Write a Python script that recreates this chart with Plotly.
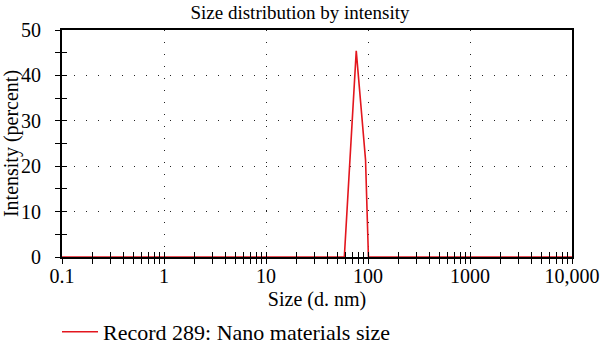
import plotly.graph_objects as go

# Data (size in d.nm, intensity in percent)
size_nm = [0.1, 1, 10, 58.6, 76.7, 94.6, 101, 1000, 10000]
intensity = [0, 0, 0, 0, 45.4, 21.4, 0, 0, 0]

x_major = [0.1, 1, 10, 100, 1000, 10000]
x_labels = ["0.1", "1", "10", "100", "1000", "10,000"]
x_minor = [m * d for d in [0.1, 1, 10, 100, 1000] for m in range(2, 10)]
y_major = [0, 10, 20, 30, 40, 50]
y_minor = [5, 15, 25, 35, 45]

FONT = "Liberation Serif, DejaVu Serif, serif"
RED = "#e3161e"

fig = go.Figure()
fig.add_trace(go.Scatter(
    x=size_nm, y=intensity, mode="lines",
    line=dict(color=RED, width=1.6),
    name="Record 289: Nano materials size",
    xaxis="x", yaxis="y",
))
# helper invisible trace so overlay axes (inside ticks) are drawn
fig.add_trace(go.Scatter(
    x=size_nm, y=intensity, mode="lines", opacity=0,
    showlegend=False, hoverinfo="skip", xaxis="x2", yaxis="y2",
))

common_x = dict(type="log", range=[-1, 4], tickvals=x_major,
                ticklen=5, tickwidth=1.3, tickcolor="black", automargin=False)
common_y = dict(range=[0, 50], tickvals=y_major,
                ticklen=5, tickwidth=1.3, tickcolor="black", automargin=False)

fig.update_layout(
    width=600, height=353,
    margin=dict(l=62, r=28, t=30, b=96),
    paper_bgcolor="white", plot_bgcolor="white",
    font=dict(family=FONT, size=20, color="black"),
    title=dict(text="Size distribution by intensity", x=0.5, xanchor="center",
               y=0.965, yanchor="middle",
               font=dict(family=FONT, size=19, color="black")),
    showlegend=True,
    legend=dict(x=0.095, xanchor="left", xref="container",
                y=0.0, yanchor="bottom", yref="container",
                orientation="h", font=dict(family=FONT, size=22, color="black"),
                bgcolor="rgba(0,0,0,0)", itemwidth=36),
    xaxis=dict(**common_x, ticktext=x_labels, ticks="outside",
               showline=True, linecolor="black", linewidth=2, mirror=True,
               layer="below traces",
               showgrid=True, gridcolor="#222", gridwidth=1,
               griddash="1px,11px",
               minor=dict(tickmode="array", tickvals=x_minor, ticks="outside",
                          ticklen=5, tickwidth=1.3, tickcolor="black",
                          showgrid=False),
               ticklabelstandoff=-5,
               title=dict(text="Size (d. nm)", standoff=11,
                          font=dict(family=FONT, size=20, color="black")),
               zeroline=False, tickfont=dict(family=FONT, size=20, color="black")),
    yaxis=dict(**common_y, ticks="outside",
               showline=True, linecolor="black", linewidth=2, mirror=True,
               showgrid=True, gridcolor="#222", gridwidth=1,
               griddash="1px,11px",
               minor=dict(tickmode="array", tickvals=y_minor,
                          ticks="outside", ticklen=5, tickwidth=1.3,
                          tickcolor="black", showgrid=False),
               ticklabelstandoff=10,
               title=dict(text="Intensity (percent)", standoff=4,
                          font=dict(family=FONT, size=20, color="black")),
               zeroline=False, tickfont=dict(family=FONT, size=20, color="black")),
    xaxis2=dict(**common_x, overlaying="x", anchor="y", side="bottom",
                ticks="inside", showticklabels=False, showgrid=False,
                showline=False, zeroline=False,
                minor=dict(tickmode="array", tickvals=x_minor, ticks="inside",
                           ticklen=5, tickwidth=1.3, tickcolor="black",
                           showgrid=False)),
    yaxis2=dict(**common_y, overlaying="y", anchor="x", side="left",
                ticks="inside", showticklabels=False, showgrid=False,
                showline=False, zeroline=False,
                minor=dict(tickmode="array", tickvals=y_minor,
                           ticks="inside", ticklen=5, tickwidth=1.3,
                           tickcolor="black", showgrid=False)),
)

fig.write_html("out.html")
